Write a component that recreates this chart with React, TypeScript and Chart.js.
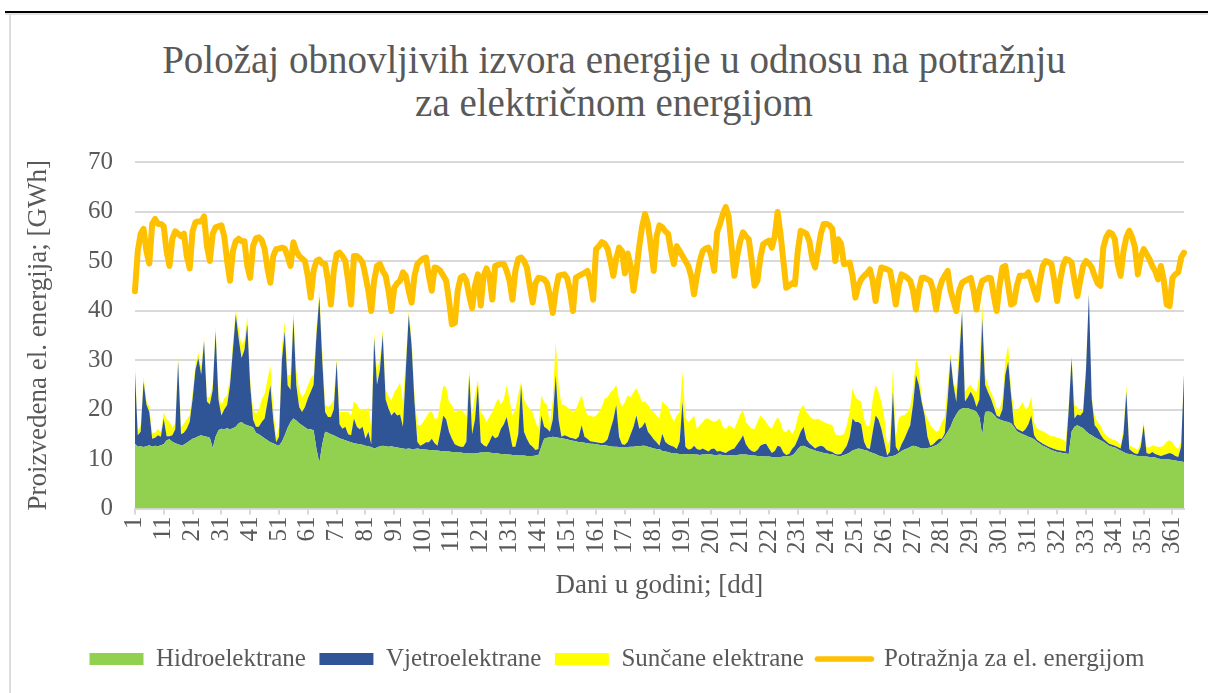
import React, { useEffect, useRef } from 'react';
import Chart from 'chart.js/auto';

const titleLines = ['Položaj obnovljivih izvora energije u odnosu na potražnju', 'za električnom energijom'];
const yAxisTitle = 'Proizvedena el. energija; [GWh]';
const xAxisTitle = 'Dani u godini; [dd]';
const seriesNames = ['Hidroelektrane', 'Vjetroelektrane', 'Sunčane elektrane', 'Potražnja za el. energijom'];
const seriesColors = ['#92D050', '#2F5597', '#FFFF00', '#FFC000'];
const yTicks = [0, 10, 20, 30, 40, 50, 60, 70];

// categories: day of year 1..365
const days: string[] = Array.from({ length: 365 }, (_, i) => String(i + 1));

const hydro = [
  13.1, 12.5, 12.6, 12.4, 12.6, 12.8, 12.5, 12.7, 12.6, 12.8,
  13.0, 13.8, 14.0, 13.5, 13.2, 13.0, 12.8, 12.9, 13.3, 13.7,
  14.1, 14.3, 14.6, 14.8, 14.6, 14.5, 14.3, 12.2, 14.5, 15.8,
  16.1, 16.0, 16.2, 16.0, 16.2, 16.5, 17.2, 17.5, 17.0, 16.8,
  16.6, 16.4, 15.3, 15.0, 14.6, 14.2, 13.8, 13.4, 13.2, 12.9,
  12.7, 13.5, 14.8, 16.3, 17.5, 18.2, 17.8, 17.2, 16.8, 16.4,
  16.0, 16.0, 15.8, 12.0, 9.3, 13.0, 15.5, 15.3, 15.0, 14.8,
  14.5, 14.2, 14.0, 13.8, 13.6, 13.4, 13.2, 13.1, 13.0, 12.9,
  12.7, 12.6, 12.4, 12.1, 12.3, 12.6, 12.7, 12.6, 12.5, 12.6,
  12.4, 12.3, 12.2, 12.1, 12.0, 12.1, 12.0, 12.0, 12.1, 12.0,
  11.9, 11.9, 11.8, 11.8, 11.7, 11.7, 11.6, 11.6, 11.5, 11.5,
  11.4, 11.4, 11.3, 11.3, 11.2, 11.2, 11.1, 11.1, 11.1, 11.2,
  11.3, 11.3, 11.4, 11.3, 11.2, 11.2, 11.1, 11.0, 11.0, 10.9,
  10.9, 10.8, 10.8, 10.7, 10.7, 10.7, 10.6, 10.6, 10.6, 10.7,
  10.8, 12.5, 14.1, 14.3, 14.4, 14.5, 14.4, 14.3, 14.2, 14.1,
  14.0, 13.8, 13.7, 13.6, 13.4, 13.4, 13.3, 13.2, 13.1, 13.1,
  13.0, 12.9, 12.8, 12.8, 12.7, 12.6, 12.5, 12.5, 12.4, 12.4,
  12.4, 12.4, 12.5, 12.5, 12.6, 12.6, 12.7, 12.7, 12.5, 12.3,
  12.1, 12.0, 12.0, 11.6, 11.5, 11.4, 11.2, 11.1, 11.1, 11.0,
  11.0, 10.9, 11.0, 11.0, 10.9, 10.9, 10.8, 10.9, 10.9, 11.0,
  10.9, 10.8, 10.8, 10.9, 10.8, 10.7, 10.7, 10.8, 10.8, 10.8,
  10.9, 10.9, 10.9, 10.8, 10.7, 10.7, 10.6, 10.6, 10.5, 10.5,
  10.5, 10.4, 10.4, 10.4, 10.4, 10.5, 10.5, 10.6, 10.7, 11.2,
  12.0, 12.6, 12.7, 12.4, 12.1, 11.9, 11.7, 11.5, 11.4, 11.2,
  11.1, 11.0, 11.0, 10.7, 10.6, 10.6, 10.8, 11.0, 11.3, 11.7,
  11.9, 12.1, 12.0, 11.8, 11.7, 11.4, 11.2, 11.0, 10.7, 10.5,
  10.4, 10.4, 10.5, 10.6, 10.8, 11.2, 11.6, 11.9, 12.1, 12.4,
  12.7, 12.6, 12.3, 12.1, 12.1, 12.2, 12.3, 12.6, 12.8, 13.2,
  13.8, 14.6, 15.5, 16.5, 18.0, 19.0, 19.9, 20.2, 20.3, 20.3,
  20.0, 19.9, 19.5, 18.5, 14.8, 19.5, 19.6, 19.5, 19.0, 18.3,
  18.0, 17.8, 17.6, 17.5, 17.2, 16.5, 15.6, 15.3, 15.0, 14.8,
  14.5, 14.3, 14.0, 13.5, 13.1, 12.7, 12.4, 12.1, 11.8, 11.6,
  11.4, 11.3, 11.2, 11.1, 11.0, 15.5, 16.5, 16.8, 16.5, 16.2,
  15.6, 15.1, 14.8, 14.4, 14.1, 13.8, 13.5, 13.1, 12.7, 12.5,
  12.3, 12.0, 11.7, 11.4, 11.1, 11.0, 10.9, 10.7, 10.6, 10.6,
  10.5, 10.5, 10.4, 10.4, 10.3, 10.1, 10.0, 10.0, 10.0, 9.9,
  9.8, 9.7, 9.6, 9.5, 9.4,
];

const wind = [
  14.9, 2.3, 2.9, 13.2, 8.4, 6.7, 1.6, 1.6, 2.2, 1.7,
  5.2, 0.8, 0.6, 1.3, 2.8, 16.7, 2.2, 2.4, 2.8, 3.8,
  7.9, 13.7, 15.8, 12.2, 19.2, 7.1, 6.7, 11.8, 21.3, 6.2,
  2.7, 4.0, 4.7, 8.9, 15.8, 22.7, 17.2, 12.9, 15.0, 20.4,
  8.3, 1.6, 1.2, 1.5, 2.9, 4.0, 7.7, 11.5, 4.8, 0.5,
  1.8, 16.5, 21.0, 8.6, 6.5, 20.3, 7.1, 3.3, 2.7, 4.1,
  6.2, 7.6, 9.2, 23.0, 33.5, 17.0, 4.0, 3.2, 3.5, 5.2,
  15.2, 2.8, 2.1, 2.7, 1.4, 1.4, 5.0, 3.4, 3.0, 3.6,
  1.4, 2.9, 0.6, 22.3, 12.7, 15.4, 22.4, 9.4, 7.7, 6.2,
  7.1, 6.5, 6.8, 4.4, 16.0, 27.1, 21.0, 9.6, 1.4, 0.7,
  1.1, 1.5, 1.6, 2.3, 1.5, 1.0, 3.9, 7.2, 6.5, 4.0,
  2.7, 1.6, 1.4, 1.2, 1.3, 2.3, 15.9, 3.9, 6.9, 13.8,
  2.1, 1.5, 1.1, 2.2, 3.6, 3.0, 3.4, 5.1, 6.0, 7.6,
  4.6, 1.7, 1.7, 4.3, 14.3, 4.8, 3.5, 2.4, 1.9, 1.1,
  1.2, 6.3, 2.4, 1.8, 1.1, 3.5, 12.6, 3.7, 0.3, 0.7,
  0.6, 0.5, 0.5, 0.4, 1.1, 3.4, 1.2, 0.9, 0.5, 0.4,
  0.4, 0.4, 0.4, 0.6, 1.3, 3.4, 5.5, 8.4, 2.1, 0.6,
  0.5, 1.1, 2.5, 4.0, 6.2, 3.5, 3.8, 4.8, 3.0, 2.5,
  1.9, 1.4, 0.7, 3.5, 2.0, 1.6, 1.5, 1.4, 0.9, 2.5,
  10.6, 1.6, 0.9, 1.0, 1.8, 1.1, 1.0, 1.2, 0.9, 0.5,
  1.1, 1.3, 0.7, 0.7, 0.6, 0.5, 0.9, 1.1, 1.3, 2.2,
  2.9, 3.9, 2.1, 1.3, 0.9, 0.7, 1.2, 2.1, 2.5, 2.6,
  1.6, 0.8, 1.2, 2.3, 2.1, 0.8, 0.3, 0.4, 1.3, 1.5,
  2.0, 2.9, 3.8, 1.6, 1.1, 0.8, 0.4, 1.0, 1.3, 1.3,
  0.7, 0.6, 0.4, 0.3, 0.3, 0.4, 1.0, 1.7, 3.2, 6.5,
  5.6, 5.4, 5.0, 1.7, 0.5, 0.6, 4.3, 7.8, 7.3, 5.6,
  3.1, 0.3, 1.0, 13.0, 1.7, 0.3, 1.4, 2.2, 3.4, 4.4,
  8.3, 14.4, 12.7, 9.4, 6.7, 2.3, 0.4, 0.4, 0.8, 0.9,
  0.3, 0.6, 6.5, 13.9, 7.0, 2.5, 10.1, 19.7, 1.3, 2.2,
  3.6, 2.6, 1.0, 3.5, 23.7, 5.5, 3.9, 2.7, 1.5, 0.5,
  0.5, 2.2, 9.4, 12.2, 5.7, 0.5, 0.5, 0.5, 0.5, 1.2,
  2.5, 4.5, 0.8, 0.4, 0.4, 0.4, 0.4, 0.4, 0.4, 0.4,
  0.4, 0.4, 0.4, 0.4, 9.0, 14.9, 1.7, 2.2, 2.3, 3.3,
  12.4, 28.2, 7.2, 2.4, 2.0, 1.2, 0.6, 0.5, 0.4, 0.4,
  0.4, 0.4, 0.4, 3.6, 12.5, 1.0, 0.6, 0.4, 0.4, 1.9,
  6.3, 0.7, 0.6, 1.0, 0.7, 0.7, 0.6, 0.8, 1.0, 1.3,
  1.2, 0.9, 0.8, 3.0, 17.6,
];

const solar = [
  1.3, 1.0, 1.2, 1.0, 0.8, 1.0, 1.2, 1.0, 1.3, 1.0,
  1.2, 3.5, 3.0, 1.5, 1.2, 1.0, 1.5, 1.8, 2.0, 1.4,
  1.2, 1.3, 1.0, 1.5, 0.8, 1.0, 1.5, 1.2, 1.0, 1.5,
  2.0, 2.2, 2.0, 1.5, 1.5, 1.0, 2.0, 2.5, 2.0, 1.5,
  1.2, 2.0, 2.7, 3.5, 4.5, 5.0, 4.5, 4.0, 2.5, 1.0,
  2.0, 2.5, 2.0, 2.0, 3.0, 1.5, 3.0, 3.4, 3.0, 2.8,
  2.7, 2.7, 2.0, 1.5, 1.2, 2.0, 1.5, 2.0, 2.5, 2.0,
  0.8, 2.5, 3.4, 3.0, 4.5, 4.0, 3.4, 4.5, 4.0, 3.7,
  5.5, 5.0, 3.5, 1.0, 3.0, 2.0, 1.0, 2.0, 2.5, 3.0,
  4.0, 5.5, 6.5, 5.0, 2.0, 0.7, 1.5, 1.5, 3.5, 4.0,
  4.5, 5.0, 6.0, 5.5, 5.0, 5.5, 6.0, 6.0, 6.5, 6.0,
  6.8, 6.5, 7.0, 7.5, 7.0, 5.0, 1.0, 4.0, 5.0, 1.0,
  6.0, 6.0, 5.0, 5.0, 4.7, 6.8, 7.7, 4.9, 5.0, 6.5,
  6.5, 6.3, 7.5, 8.0, 0.6, 6.5, 6.8, 7.0, 7.0, 5.7,
  4.1, 4.1, 5.0, 4.8, 1.5, 4.0, 6.8, 7.0, 6.5, 6.1,
  5.9, 5.6, 5.3, 6.0, 7.0, 6.1, 6.0, 4.7, 5.2, 5.0,
  5.4, 6.2, 7.3, 8.8, 8.5, 7.5, 6.0, 4.1, 7.5, 7.5,
  8.6, 9.4, 7.5, 7.0, 5.5, 6.9, 5.0, 4.1, 5.5, 5.2,
  5.5, 5.4, 5.5, 6.5, 7.5, 7.5, 6.1, 5.0, 6.8, 6.0,
  6.1, 6.0, 5.6, 6.0, 6.1, 4.1, 5.0, 5.4, 6.4, 6.7,
  5.8, 5.4, 6.3, 6.6, 5.1, 4.8, 5.2, 4.6, 4.0, 4.5,
  5.2, 5.1, 4.5, 4.7, 4.5, 4.7, 5.7, 6.1, 5.2, 4.4,
  4.4, 4.9, 5.9, 5.8, 5.0, 4.2, 4.7, 5.1, 3.0, 3.3,
  4.5, 4.7, 4.4, 5.5, 5.6, 5.5, 5.9, 5.7, 5.1, 5.0,
  5.4, 5.4, 5.4, 4.0, 3.9, 3.8, 3.2, 4.1, 5.0, 6.1,
  5.0, 4.4, 4.6, 4.7, 4.3, 4.8, 6.5, 6.2, 5.6, 5.4,
  5.0, 2.0, 2.5, 4.7, 2.0, 6.7, 5.8, 4.7, 4.0, 3.7,
  3.0, 3.4, 3.3, 0.5, 0.7, 3.7, 4.1, 3.1, 1.9, 1.7,
  3.4, 3.3, 3.0, 1.0, 0.5, 2.5, 3.0, 0.6, 2.0, 2.0,
  1.4, 1.5, 3.1, 5.0, 3.0, 2.0, 1.5, 1.3, 1.7, 1.4,
  1.6, 2.0, 3.0, 3.3, 1.1, 3.0, 3.7, 4.7, 6.0, 4.0,
  3.5, 3.8, 2.7, 2.3, 2.3, 2.5, 2.5, 2.4, 2.4, 2.6,
  2.5, 2.5, 2.3, 2.1, 1.0, 0.6, 2.7, 1.5, 0.7, 0.7,
  1.0, 0.3, 0.5, 2.0, 1.4, 1.8, 1.4, 1.2, 1.2, 1.1,
  1.1, 1.1, 0.8, 1.0, 1.4, 0.8, 1.0, 1.0, 0.8, 1.0,
  0.7, 1.2, 1.3, 1.4, 1.6, 1.7, 1.8, 2.0, 2.5, 2.6,
  2.4, 1.8, 1.6, 1.0, 0.7,
];

const demand = [
  43.9, 52, 55.5, 56.5, 52, 49.5, 57.5, 58.5, 57.5, 57.5,
  57, 52, 49, 54.5, 56, 55.5, 55, 55.5, 51, 48.5,
  56, 57.8, 58, 58, 59, 53, 50, 55.5, 56.8, 57,
  57.2, 55, 50, 46, 52, 54, 54.5, 54, 54, 49,
  46.6, 53, 54.6, 54.8, 54.2, 52.5, 48.5, 45.6, 51, 52.4,
  52.5, 52.7, 52.5, 51, 49, 53.8, 52, 51, 50.5, 50,
  47, 42.6, 48, 50, 50.3, 49.5, 49.4, 46, 41.2, 48,
  51.4, 51.7, 51, 50, 46, 41.2, 51, 51, 50.5, 49.7,
  47, 44, 39.9, 46, 49, 49.4, 48, 47, 44, 39.9,
  44.6, 45.5, 46, 47.7, 47, 44, 41.6, 47, 49.4, 50,
  50.5, 50.7, 47, 44, 48.7, 48.5, 48, 47, 46, 42,
  37.2, 37.5, 44, 46.6, 47, 46, 43, 40.5, 45, 47.3,
  41, 47, 48.5, 47, 42.2, 49, 49.2, 49.4, 49.4, 48,
  46, 42.2, 48, 50.4, 50.7, 50, 48.7, 45, 41.6, 45.5,
  46.6, 46.5, 46.3, 45.5, 43, 39.5, 44, 47, 47.2, 47.3,
  46.5, 44, 39.9, 46.6, 47, 47.3, 47.6, 48, 46, 42.2,
  52.4, 53, 53.8, 53.5, 52.5, 50, 47, 50.5, 52.7, 52,
  47.5, 51.5, 49, 44, 48, 53, 57, 59.5, 57.5, 53,
  48, 55, 57.2, 56.8, 56, 55.5, 52, 49.4, 53, 52,
  51, 50, 49, 47, 43.3, 47, 50, 52, 52.5, 52.7,
  51, 48, 55.8, 57.5, 59.5, 60.9, 59, 53, 47, 51,
  54, 55.8, 55, 54.4, 50, 45, 46, 50.7, 53.4, 53.8,
  54.1, 52.7, 55, 59.9, 55.5, 50, 44.6, 45, 45.5, 45.3,
  52, 56.1, 55.8, 55.5, 54, 50.5, 48.7, 52, 55.5, 57.5,
  57.5, 57.2, 56.5, 50, 54.4, 53.5, 49.4, 49.5, 49.7, 47,
  42.6, 45, 46.3, 47, 47.5, 48.3, 46, 41.9, 46, 48.7,
  48.5, 48.3, 48, 45, 41.2, 45, 47.3, 47, 46.6, 46,
  44, 40.2, 44, 46.6, 46.6, 46.3, 46, 44, 40.2, 44,
  46, 47, 48, 44, 42, 39.9, 44, 45.6, 46, 46.3,
  46.6, 44, 40.2, 44, 46, 46.3, 46.6, 46.5, 43, 39.9,
  45, 48.7, 49, 45, 41.2, 41.5, 45, 47, 47, 47,
  47.7, 46, 44, 42.2, 46, 49, 50, 49.8, 49.4, 46,
  41.9, 46, 49, 50.4, 50.2, 49.7, 46, 42.9, 46, 49,
  50, 49.5, 48.7, 47, 45.5, 45, 52.7, 54.8, 55.8, 55.5,
  54.4, 49.4, 47, 52, 54.8, 56.1, 54.8, 52.7, 47.3, 50.7,
  52.4, 51.4, 50.4, 49, 48, 46.3, 49, 46, 41.2, 40.9,
  46.6, 47.3, 47.7, 50.7, 51.7,
];

const FONT = "'Liberation Serif', 'Times New Roman', serif";
const TEXT = '#595959';
const GRID = '#d9d9d9';

// shifts the (centered) legend row to where the original sits
const legendShift = {
  id: 'legendShift',
  afterLayout(chart: any) {
    const l = chart.legend;
    if (l) {
      l.left += 20;
      l.right += 20;
    }
  },
};

export default function App() {
  const ref = useRef<HTMLCanvasElement | null>(null);

  useEffect(() => {
    if (!ref.current) return;
    const area = (i: number, data: number[], fill: string | boolean) => ({
      label: seriesNames[i],
      data,
      backgroundColor: seriesColors[i],
      borderColor: 'rgba(0,0,0,0)',
      borderWidth: 0,
      pointRadius: 0,
      pointHoverRadius: 0,
      fill,
      stack: 'gen',
      tension: 0,
      order: 1,
    });
    const chart = new Chart(ref.current, {
      type: 'line',
      data: {
        labels: days,
        datasets: [
          area(0, hydro, 'origin'),
          area(1, wind, '-1'),
          area(2, solar, '-1'),
          {
            label: seriesNames[3],
            data: demand,
            borderColor: seriesColors[3],
            backgroundColor: seriesColors[3],
            borderWidth: 6,
            borderJoinStyle: 'round',
            borderCapStyle: 'round',
            pointRadius: 0,
            pointHoverRadius: 0,
            fill: false,
            stack: 'dem',
            tension: 0,
            order: 0,
          },
        ],
      },
      plugins: [legendShift],
      options: {
        responsive: false,
        animation: false,
        events: [],
        layout: { padding: { left: 10, right: 24, top: 162, bottom: 11.5 } },
        plugins: {
          title: { display: false },
          tooltip: { enabled: false },
          legend: {
            position: 'bottom',
            labels: {
              usePointStyle: true,
              pointStyleWidth: 54,
              boxHeight: 12,
              padding: 13.5,
              color: TEXT,
              font: { family: FONT, size: 25 },
              generateLabels: () =>
                seriesNames.map((name, i) => ({
                  text: name,
                  fillStyle: seriesColors[i],
                  strokeStyle: seriesColors[i],
                  lineWidth: i === 3 ? 5.5 : 0,
                  lineCap: 'round',
                  pointStyle: i === 3 ? 'line' : 'rect',
                  hidden: false,
                  datasetIndex: i,
                  fontColor: TEXT,
                })),
            },
          },
        },
        scales: {
          x: {
            offset: false,
            grid: {
              drawOnChartArea: false,
              drawTicks: true,
              tickLength: 6,
              color: GRID,
              lineWidth: 2,
              offset: false,
            },
            border: { display: true, color: GRID, width: 2 },
            ticks: {
              autoSkip: false,
              minRotation: 90,
              maxRotation: 90,
              padding: 2,
              color: TEXT,
              font: { family: FONT, size: 25 },
              callback: (_v: any, i: number) => (i % 10 === 0 ? days[i] : null),
            },
            title: {
              display: true,
              text: xAxisTitle,
              color: TEXT,
              font: { family: FONT, size: 27 },
              padding: { top: 13.3, bottom: 31.3 },
            },
          },
          y: {
            stacked: true,
            min: 0,
            max: 70,
            afterBuildTicks: (axis: any) => {
              axis.ticks = yTicks.map((v) => ({ value: v }));
            },
            grid: { color: GRID, lineWidth: 2, drawTicks: false },
            border: { display: false },
            ticks: {
              padding: 22,
              color: TEXT,
              font: { family: FONT, size: 25 },
            },
            title: {
              display: true,
              text: yAxisTitle,
              color: TEXT,
              font: { family: FONT, size: 27 },
              padding: { top: 12.5, bottom: 11 },
            },
          },
        },
      },
    } as any);
    return () => chart.destroy();
  }, []);

  return (
    <div style={{ position: 'absolute', left: 0, top: 0, width: 1208, height: 693, background: '#fff', overflow: 'hidden' }}>
      <div style={{ position: 'absolute', left: 5, top: 11, width: 1203, height: 2, background: '#000' }} />
      <div style={{ position: 'absolute', left: 5, top: 13, width: 1203, height: 2, background: '#e2e2e2' }} />
      <div style={{ position: 'absolute', left: 9, top: 15, width: 2, height: 678, background: '#dcdcdc' }} />
      <div
        style={{
          position: 'absolute',
          left: 114,
          top: 38,
          width: 1000,
          textAlign: 'center',
          fontFamily: FONT,
          fontSize: 39,
          lineHeight: '43px',
          color: TEXT,
          whiteSpace: 'nowrap',
        }}
      >
        <div>{titleLines[0]}</div>
        <div>{titleLines[1]}</div>
      </div>
      <canvas ref={ref} width={1208} height={693} style={{ position: 'absolute', left: 0, top: 0, width: 1208, height: 693 }} />
    </div>
  );
}
